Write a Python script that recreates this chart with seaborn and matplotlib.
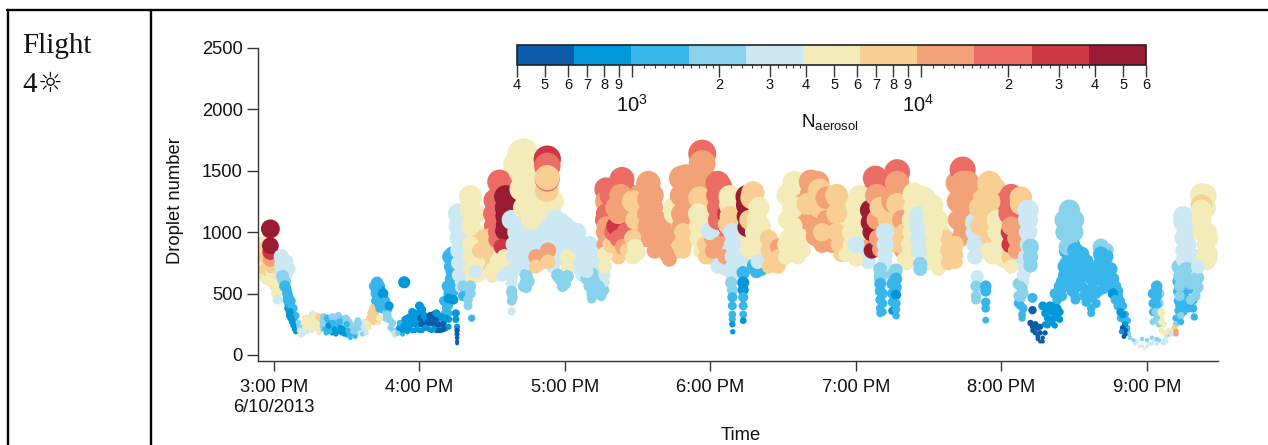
import numpy as np
import pandas as pd
import matplotlib
matplotlib.use('Agg')
import matplotlib.pyplot as plt
from matplotlib.colors import BoundaryNorm, ListedColormap, LogNorm, PowerNorm
from matplotlib.cm import ScalarMappable
from matplotlib.lines import Line2D
import seaborn as sns

time_min = [
    -4.5,-4.5,-4.5,-4.5,-4.5,-3,-3,-2.5,-1,-1,
    -0.5,-1,-1.5,-1.5,-1.5,-1.5,0,0.5,1,1.5,
    3,3,3,3.5,4,4.5,5.5,6,7,7.5,
    6.5,7,7.5,8,8.5,9,10.5,11,11,10.5,
    12.5,13,13.5,14.5,15,15.5,16,17,17.5,18,
    18.5,18.5,20.5,20.5,21,22,22.5,23,24,24.5,
    25,25.5,26.5,27,27.5,28,29,29.5,30,30.5,
    31,31.5,32.5,33,33.5,34.5,35,35.5,36.5,37,
    38,37.5,38.5,39.5,40,41,41.5,42,42.5,43.5,
    42.5,42.5,43,43,43.5,45,45.5,46,47.5,46.5,
    47,48.5,49,49.5,49.5,53.7,51,51.5,52,53,
    53.5,54,55,55.5,56,57,57.5,58,59,59.5,
    60,60.5,61,62,62,63,63.5,64.5,65,66,
    66.5,67,67.5,68,69,69.5,70,71,72,70,
    71,72,72.5,73,73.5,73.5,73.5,72,71.5,74,
    76,76,76,76,76,76,77,77,78,78,
    75,75,75.5,75.5,75.5,75.5,75.5,75.5,81,81,
    81,81,81,81,81.5,81,81,80,80,81.5,
    86,87,88,89,88,90,92,84,85,83,
    93,93,92.5,92.5,92,92,95.5,95.5,95.5,95.5,
    95,94,95,96,97,98,98,98,98.5,98,
    99,99,100,100,98,102,102,102,103,105,
    108,110,112,112,106,104,104,104,105,103,
    112.5,112.7,112.7,112.7,112.7,116,118,120,115,107,
    108,108,113,113,122,124,125,119,118,127,
    127,128,131,132,132,133,134,135,129,136.5,
    136.5,137,137,137,137,138,139,139,140,143.5,
    141,141,142,142,143,144,145,144,146,148,
    149,148,149,150,148,154.4,154.4,154,154,155,
    157,158,160,161,161,162,162,163,165,165,
    168,168,168,168,170,172,172,169,168.8,168.8,
    176.6,176.6,176.6,176,175,175.5,175,175,175,176,
    178,178,181,181,180,183,183,183,183,184,
    187,187,187,184,188,188,188,187,188,186,
    189,189,189,189,189,188.5,189,189,189,189,
    189,189,189.2,193.5,193.5,193.5,193.5,193.5,193.5,193.5,
    195,195,195,195,197.5,197,196,200,199,198,
    197,198,200,199.5,199.5,204,204,205,208,208,
    208,204,211,214.6,214,214,215,213,211,216,
    221.5,221.5,222,223,223,220,225,225,228,228,
    229,230,226,232,232,232,233,234,238,238,
    236,240,241.5,241,241.5,240,246,246,246.5,246.5,
    248,248.5,248.5,249,250,250,253,257,257,255,
    257,259,260,258,252,252,252,252,250,250,
    250,250,250,250,250,256.5,256.5,256.5,256.5,256.5,
    256.5,256.5,264,264,263,263,262,262,266,266,
    266,266,266.5,266.5,271.5,271.5,272,272,272,274,
    278,278,284,284,286,286,285,284,281,281,
    289,289,289,291,291,295,295,295,295,294.5,
    289,290,289.5,289.5,289.5,293.5,293.5,293.5,293.5,293.5,
    298,298,299,303.5,303.5,304,303,304,304,308,
    306,306,308,311,311,311,311,310,310,309,
    312,312,312,308.5,308,308,308.5,308.5,312.8,312.8,
    312,313,314,315,317,317,315,318,317,318,
    320,322,322,323,324,322,324,326,327,328,
    328,328,328,328,327,330.5,331,331,330.5,331,
    330,330.5,337,337,337,337,337,341,341,341,
    342,342,342,345,346,347,348,349,350,351,
    350,350,351,351,350.5,349.5,354.5,355,357,359,
    361,363,364,366,367,364,364,364,364,363.5,
    364,365,366,366,366,366,367,369,370,371.5,
    372,372,375,375,375,375,375,376,373.5,373.5,
    373.5,373.5,374,374,379.5,380,381,380,378,382.5,
    382.5,382.5,382.5,382.5,384,386,383,385,381,386,
]
droplet_number = [
    660,720,780,850,900,700,800,880,600,680,
    760,720,780,840,890,1027,620,560,500,450,
    800,730,680,640,610,560,500,470,400,350,
    350,300,270,240,210,190,230,180,160,200,
    270,220,190,300,240,200,330,320,260,210,
    180,310,310,250,210,300,240,190,310,260,
    210,170,320,270,220,180,170,300,250,200,
    170,140,190,240,150,280,220,180,170,230,
    180,270,260,300,340,380,330,300,290,300,
    590,530,480,420,380,500,430,400,400,330,
    290,240,200,180,165,592,175,220,260,200,
    240,290,220,270,310,350,300,250,210,330,
    400,300,250,220,320,290,270,320,260,210,
    290,340,250,200,310,250,210,300,230,440,
    380,500,560,620,680,760,820,460,560,450,
    1150,1050,950,850,750,650,600,550,560,480,
    340,290,230,200,170,140,110,95,1290,1180,
    1050,900,800,700,640,560,500,450,400,300,
    700,800,900,960,750,700,760,750,850,680,
    1410,1300,1200,1100,1000,940,1290,1200,1130,1060,
    1010,880,800,720,680,640,500,520,470,354,
    900,800,1000,750,1100,1640,1500,1350,1200,1540,
    1450,1400,1300,1200,1100,650,600,550,750,850,
    1340,1595,1540,1432,1445,1100,1080,1050,950,900,
    800,720,850,760,950,1000,900,560,620,900,
    850,750,660,600,540,500,560,480,680,720,
    820,1350,1250,1150,1050,950,900,1300,1000,1430,
    1200,1050,1150,950,1300,1200,1000,880,850,1250,
    1100,950,880,830,800,1400,1270,1150,1050,950,
    1100,900,1080,950,850,980,820,780,1200,1150,
    1440,1300,1150,1050,1200,1100,1000,900,1000,850,
    1640,1560,1450,1350,1250,1280,1150,1050,950,850,
    900,800,950,850,1010,1400,1300,1200,1100,1370,
    1150,1050,950,900,1290,1220,1130,1060,850,800,
    1000,900,800,720,640,590,530,470,400,330,
    290,250,189,670,590,530,470,400,330,280,
    1290,1220,1130,1040,1320,1280,1100,1200,1100,1000,
    900,850,800,720,760,950,850,800,880,800,
    720,720,900,1400,1200,1050,950,880,800,800,
    1410,1300,1150,1030,960,1230,1340,1200,1280,1100,
    1000,900,1000,1300,1150,1000,900,820,1000,900,
    820,780,1290,1150,1000,900,1180,1080,1000,850,
    1440,1300,1100,950,860,1200,1100,1490,1400,1250,
    1230,1100,1000,900,1000,900,820,750,700,650,
    580,520,450,380,340,690,620,550,490,420,
    370,320,1310,1200,1100,1000,900,820,1130,1050,
    950,850,700,740,1220,1100,1000,900,800,700,
    750,850,1510,1400,1400,1200,1050,1000,900,760,
    1080,1000,900,1200,1050,1400,1250,1100,950,850,
    800,640,560,480,450,560,520,430,380,284,
    1100,1000,900,1000,900,1300,1150,1050,720,1280,
    950,850,1230,1180,1100,1000,900,800,700,650,
    880,800,730,540,460,400,330,300,465,365,
    260,230,180,150,110,140,220,250,400,340,
    290,240,300,380,350,500,560,650,750,1180,
    1120,1060,1000,950,880,850,780,700,640,580,
    500,450,620,540,470,380,340,880,820,750,
    680,610,540,560,500,450,400,350,290,250,
    330,220,170,200,150,190,120,90,70,50,
    90,120,130,100,90,560,520,470,410,350,
    300,250,200,350,270,200,180,200,170,220,
    190,170,1130,1080,950,850,780,700,640,560,
    480,400,320,270,310,620,550,480,450,1305,
    1220,1180,1100,1000,900,830,780,750,720,790,
]
n_aerosol = [
    4900,7700,4900,7700,4900,7700,7700,7700,4900,4900,
    4900,7700,12000,30000,48000,48000,4900,4900,4900,3100,
    3100,3100,3100,2000,2000,1250,1250,1250,1250,1250,
    800,800,800,800,800,800,2000,3100,3100,3100,
    4900,4900,3100,4900,4900,4900,3100,4900,4900,4900,
    4900,7700,2000,2000,1250,1250,800,1250,2000,1250,
    800,800,2000,1250,800,800,800,2000,1250,1250,
    1250,1250,2000,2000,1250,2000,2000,3100,2000,3100,
    3100,3100,4900,7700,7700,7700,7700,7700,7700,4900,
    1250,1250,1250,1250,1250,800,1250,1250,800,2000,
    2000,2000,2000,3100,3100,800,2000,800,1250,800,
    800,800,800,800,800,800,800,800,800,800,
    800,500,500,800,800,800,500,500,500,800,
    500,800,500,500,800,500,500,800,800,1250,
    1250,1250,1250,1250,1250,1250,1250,800,1250,800,
    3100,3100,3100,3100,3100,3100,3100,3100,2000,1250,
    800,800,800,500,500,500,500,500,4900,4900,
    4900,4900,4900,4900,4900,2000,2000,2000,2000,1250,
    4900,7700,7700,7700,7700,4900,4900,4900,7700,3100,
    19000,19000,19000,19000,19000,19000,48000,48000,48000,48000,
    48000,30000,4900,4900,3100,3100,2000,2000,2000,3100,
    3100,3100,3100,3100,3100,4900,4900,4900,4900,4900,
    4900,4900,4900,4900,4900,2000,2000,2000,3100,3100,
    7700,30000,19000,19000,7700,3100,3100,3100,3100,3100,
    12000,7700,12000,7700,3100,3100,3100,2000,2000,3100,
    3100,3100,2000,2000,2000,2000,2000,2000,3100,4900,
    4900,19000,12000,19000,12000,12000,7700,19000,19000,19000,
    12000,30000,12000,19000,12000,12000,19000,12000,7700,7700,
    7700,7700,4900,4900,4900,12000,12000,12000,12000,12000,
    12000,12000,12000,12000,12000,12000,12000,12000,4900,4900,
    12000,12000,12000,12000,12000,12000,12000,7700,7700,7700,
    19000,12000,12000,12000,12000,7700,4900,4900,4900,4900,
    7700,7700,12000,12000,3100,19000,19000,19000,19000,19000,
    30000,48000,19000,12000,4900,4900,7700,7700,3100,12000,
    3100,3100,3100,3100,3100,2000,2000,1250,1250,1250,
    1250,800,800,1250,800,800,1250,1250,1250,800,
    48000,48000,48000,48000,7700,7700,7700,4900,4900,4900,
    4900,4900,4900,1250,3100,7700,7700,7700,12000,7700,
    7700,7700,4900,4900,4900,4900,4900,4900,4900,4900,
    12000,12000,12000,12000,12000,7700,7700,7700,12000,12000,
    12000,12000,7700,7700,7700,7700,7700,7700,4900,4900,
    4900,4900,4900,4900,4900,3100,48000,48000,48000,48000,
    19000,12000,12000,12000,12000,7700,7700,19000,12000,12000,
    7700,12000,7700,7700,3100,3100,3100,3100,2000,2000,
    1250,1250,1250,1250,1250,2000,1250,1250,800,1250,
    1250,1250,4900,4900,4900,4900,4900,4900,3100,3100,
    3100,3100,2000,2000,4900,4900,4900,4900,4900,4900,
    7700,7700,19000,12000,12000,12000,12000,12000,7700,7700,
    3100,3100,3100,7700,7700,7700,7700,7700,7700,4900,
    3100,3100,2000,2000,2000,1250,1250,1250,1250,1250,
    4900,4900,4900,30000,30000,19000,19000,12000,4900,7700,
    12000,12000,7700,3100,3100,3100,3100,3100,3100,3100,
    2000,2000,2000,2000,2000,1250,1250,1250,1250,500,
    500,500,500,500,500,500,500,800,800,800,
    800,800,800,800,800,1250,1250,1250,1250,2000,
    2000,2000,2000,2000,2000,1250,1250,1250,1250,1250,
    1250,1250,1250,1250,1250,1250,1250,2000,1250,1250,
    1250,1250,1250,1250,800,1250,1250,800,1250,800,
    800,500,500,500,500,800,2000,3100,3100,4900,
    3100,3100,2000,3100,3100,1250,1250,1250,1250,2000,
    2000,2000,3100,4900,4900,4900,4900,4900,3100,7700,
    12000,12000,3100,3100,3100,3100,3100,2000,2000,2000,
    2000,1250,2000,1250,1250,2000,2000,2000,2000,4900,
    7700,4900,4900,4900,4900,4900,4900,4900,3100,4900,
]

# more readings from the dense parts of the swarm, drawn underneath the ones above
under_time = [
    4.5,5,5.5,6,6,6.5,7,7,8,8,
    8.5,9,9.5,9,10,10,11.5,12,12,13,
    14,14,15,16,16,16.5,17,18,18,19,
    19.5,20,21,21.5,22,22,23,23,23.5,24,
    24,25,25,26,26,26,27,27,28,28,
    28.5,29,29.5,30,30,31,31,32,32,33,
    34,34,34,35,35,36,36,37,38,39,
    39,40,41,41,42,43,41.5,42,42,42,
    43.5,44,44,44.5,45,45,46,46,47,47,
    46,48,48,49,50,50,51,52,52,53,
    53,54,54,55,55,55,56,56,57,57,
    58,58,58,59,60,60,60,61,61,61,
    62,63,64,64,65,65,66,66,67,67,
    68,68,69,70,70,71,72,72,71,72,
    73,73,74,74,74,73,72.5,79,79,79,
    79,83,83,83,83,84,85,87,90,90,
    89,91,88,90,85,91,91,90.5,90.5,91,
    93,93,93,94,96,96,98,98,104,103,
    105,100,100,100,100,103,104,104,106,106,
    106,108,108,110,110,110,114,115,113,105,
    108,110,101,101,102,103,106,107,107,109,
    110,112,112,112,114,114,115,116,118,118,
    120,120,120,122,122,122,124,124,125,126,
    127,129,130,131,131,133,133,135,121,121,
    117,120,121,129,130,131,131,134,136,136,
    136,138,138,138,136.5,136.5,136.5,140,140,140,
    141,142,143,144,146,146,146,147,147,148,
    151,151,151,153,156,156,157,158,159,159,
    160,162,163,157,164,164,166,166,167,172,
    170,170,180,180,183,184,186,187,190,190,
    192,193,194,194,194,194,196,196,201,202,
    202,202,199,198,201,203,206,206,206,209,
    210,210,212,212,212,216,216,217,218,218,
    219,220,220,224,224,224,225,226,227,228,
    231,231,235,235,235,236,237,239,240,240,
    241,243,243,245,246,246,246,246,251,251,
    252,253,254,254,255,250,252,251,251,251,
    255,255,255,255,255,258,259,260,261,261,
    259,260,261,265,265,268,268,268,268,268,
    270,270,270,270,273,274,274,275,276,277,
    279,279,281,282,282,282,283,287,287,288,
    292,292,300,300,302,293,293,293,297,297,
    297,297,296,302,302,302,306,306,305,305,
    303,305,308,308,308,308,309,307,307,307,
    309,309,313,314,316,316,315,316,318,319,
    319,319,320,321,321,322,323,324,323,324,
    325,325,326,326,327,327,329,329,329,329,
    326,326,330,330,329,333,333,333,333,334,
    335,335,335,336,338,338,339,339,340,340,
    343,343,343,344,344,345,346,347,348,348,
    349,350,349,351,352,352,352,352.5,353,356,
    358,358,360,360,362,362,364,365,367,368,
    368,369,362.5,362.5,362.5,362.5,365,365,365,365.5,
    367,368,370,371,373,373,373,373,373,372,
    372,375,375,375,375,375,377,377,377,377,
    377,377,376,377,378,379,379,379,380,380,
    381,384,384,383,385,386,384,-3,-2,-2,
    0,0,1,2,2,1,3,4,5,5,
    6,
]
under_droplets = [
    600,530,450,420,380,320,440,350,380,300,
    270,320,260,230,200,260,210,170,240,300,
    250,200,280,260,210,290,230,290,240,200,
    280,230,280,180,260,210,280,240,210,180,
    230,290,250,200,250,300,190,240,290,240,
    210,260,200,160,290,220,270,170,220,190,
    170,220,250,190,260,200,240,200,220,220,
    260,290,320,270,350,270,560,500,440,400,
    560,520,460,400,470,370,440,360,370,320,
    300,280,220,260,200,160,200,190,230,250,
    170,210,250,190,250,300,210,260,200,250,
    200,300,340,260,200,250,340,200,300,370,
    270,220,260,210,200,300,250,330,200,290,
    240,300,200,260,330,220,290,340,420,400,
    450,520,580,520,640,720,800,1100,950,800,
    680,1150,1000,850,720,640,950,950,850,950,
    800,900,700,640,650,680,1260,1150,1050,980,
    900,800,700,650,900,800,580,440,700,560,
    600,1550,1400,1250,1100,1650,1500,1350,1550,1400,
    1250,1350,1200,1300,1150,1050,1200,1250,1150,1000,
    1000,950,900,800,700,950,1000,820,750,850,
    750,1000,900,800,1050,800,720,800,950,850,
    950,850,780,1020,850,750,900,800,1000,700,
    650,800,900,800,720,800,720,640,800,700,
    650,580,640,620,560,500,460,500,530,600,
    650,1200,1100,1000,1100,1000,900,1200,1100,900,
    850,800,950,1350,1300,1150,1000,900,850,1100,
    1300,1150,1000,950,1300,1200,1000,1100,1000,900,
    950,1000,900,850,1100,1000,900,850,1000,1000,
    1450,1350,900,800,720,800,700,750,850,750,
    700,760,850,1100,1000,900,1000,850,1050,950,
    850,750,680,730,700,780,900,780,730,760,
    850,780,1300,1100,950,1300,1100,950,850,1050,
    1250,1350,1100,1400,1200,1000,1050,900,1250,1000,
    1000,1180,1200,1050,950,900,1100,1150,1250,1050,
    850,900,800,760,1300,1150,1000,900,1400,1250,
    1150,1000,1350,900,1050,620,680,500,420,350,
    650,580,500,430,360,1150,1000,1250,1150,1050,
    850,780,750,1250,1050,1280,1150,1050,900,800,
    1200,1000,850,750,800,1100,900,1000,800,950,
    900,780,820,1400,1250,1100,950,1300,1100,1000,
    1000,850,850,780,760,1300,1150,1000,1350,1250,
    1050,900,800,1250,1100,1000,1250,1130,1000,900,
    800,800,1100,1000,850,750,600,580,480,420,
    380,500,200,250,230,180,130,110,180,240,
    300,360,400,350,260,400,320,290,450,500,
    480,600,560,720,640,850,600,700,800,520,
    1100,1000,1100,1000,900,820,720,640,560,480,
    430,680,760,500,700,600,500,420,620,520,
    850,800,720,640,560,700,620,560,480,520,
    440,400,300,330,280,220,190,170,140,110,
    130,70,120,70,90,140,90,120,120,110,
    150,170,500,420,350,270,500,420,350,300,
    250,180,200,170,720,600,520,440,360,300,
    250,660,580,500,420,350,800,700,620,540,
    450,380,1000,900,580,650,450,380,700,800,
    630,1300,1200,1050,1000,950,820,620,720,640,
    700,780,620,600,520,750,770,720,660,760,
    700,
]
under_aerosol = [
    2000,1250,1250,1250,800,800,1250,1250,1250,1250,
    800,1250,1250,800,2000,2000,3100,3100,4900,4900,
    4900,4900,4900,4900,3100,4900,4900,4900,4900,2000,
    2000,2000,2000,1250,1250,1250,1250,1250,800,800,
    1250,1250,1250,1250,1250,2000,800,1250,1250,1250,
    800,2000,800,1250,2000,2000,2000,1250,2000,1250,
    2000,2000,2000,2000,2000,2000,2000,3100,3100,4900,
    7700,7700,7700,7700,7700,4900,1250,1250,1250,1250,
    1250,800,1250,1250,800,1250,1250,2000,1250,2000,
    2000,2000,2000,2000,2000,3100,2000,1250,800,800,
    1250,800,800,800,800,800,800,800,800,800,
    800,800,800,800,800,800,800,800,800,800,
    800,800,800,800,800,800,800,800,500,800,
    800,800,800,800,1250,800,800,1250,1250,1250,
    1250,1250,1250,1250,1250,1250,1250,4900,4900,4900,
    4900,4900,4900,4900,4900,4900,7700,7700,7700,7700,
    12000,7700,4900,4900,4900,4900,19000,19000,19000,30000,
    4900,4900,4900,3100,4900,4900,3100,2000,2000,2000,
    2000,4900,4900,4900,4900,4900,4900,4900,4900,4900,
    4900,4900,4900,4900,4900,4900,4900,4900,4900,4900,
    4900,4900,3100,3100,3100,3100,3100,3100,3100,3100,
    3100,3100,3100,3100,3100,3100,3100,3100,3100,3100,
    3100,3100,3100,3100,3100,3100,3100,3100,3100,3100,
    3100,3100,3100,3100,3100,3100,3100,3100,4900,4900,
    2000,2000,2000,2000,2000,2000,2000,2000,2000,3100,
    3100,19000,12000,12000,19000,12000,12000,12000,12000,12000,
    7700,7700,12000,19000,19000,12000,12000,30000,12000,12000,
    12000,12000,12000,12000,12000,12000,12000,12000,12000,12000,
    12000,12000,12000,12000,7700,7700,7700,7700,7700,3100,
    12000,12000,7700,7700,3100,3100,3100,3100,3100,3100,
    3100,3100,3100,4900,4900,4900,4900,4900,4900,4900,
    4900,4900,1250,1250,1250,7700,7700,7700,7700,7700,
    7700,4900,4900,4900,4900,4900,4900,4900,4900,4900,
    7700,12000,12000,12000,7700,12000,12000,12000,12000,12000,
    12000,7700,7700,7700,7700,7700,4900,4900,4900,4900,
    4900,4900,3100,3100,12000,12000,12000,12000,19000,12000,
    12000,12000,19000,7700,7700,2000,3100,1250,1250,1250,
    2000,1250,1250,1250,800,7700,7700,7700,7700,12000,
    12000,4900,4900,4900,4900,4900,4900,4900,4900,4900,
    4900,4900,4900,4900,4900,4900,4900,4900,4900,7700,
    7700,7700,7700,12000,12000,12000,12000,12000,12000,12000,
    4900,4900,4900,4900,4900,7700,7700,7700,7700,7700,
    7700,7700,4900,19000,19000,19000,12000,19000,12000,7700,
    7700,7700,3100,3100,3100,3100,3100,2000,2000,1250,
    1250,2000,500,500,500,500,500,500,500,800,
    800,800,800,800,800,800,800,800,1250,1250,
    1250,1250,1250,1250,1250,1250,1250,1250,1250,1250,
    2000,2000,2000,2000,1250,1250,1250,1250,1250,1250,
    1250,1250,1250,1250,1250,1250,1250,1250,1250,1250,
    2000,1250,1250,1250,1250,1250,1250,1250,1250,1250,
    1250,1250,1250,1250,1250,1250,1250,2000,2000,3100,
    2000,3100,2000,3100,3100,2000,3100,2000,3100,3100,
    3100,2000,1250,1250,1250,2000,2000,2000,3100,4900,
    4900,4900,4900,4900,2000,1250,1250,1250,1250,1250,
    2000,2000,2000,1250,1250,1250,3100,2000,2000,1250,
    1250,1250,3100,3100,2000,2000,1250,1250,3100,3100,
    2000,4900,4900,4900,4900,4900,4900,4900,4900,4900,
    4900,4900,4900,4900,4900,4900,3100,3100,3100,3100,
    3100,
]

bin_edges = [400, 631, 995, 1569, 2475, 3903, 6156, 9709, 15312, 24150, 38088, 60000]
bin_colors = ['#0b5dab', '#0098da', '#38b6ec', '#88d2ec', '#cce8f2', '#f3ecb8',
              '#f8ce92', '#f2a276', '#eb6c64', '#ce3644', '#9b1c32']
hour_ticks = [0, 60, 120, 180, 240, 300, 360]
hour_labels = ['3:00 PM\n6/10/2013', '4:00 PM', '5:00 PM', '6:00 PM', '7:00 PM', '8:00 PM', '9:00 PM']
droplet_ticks = [0, 500, 1000, 1500, 2000, 2500]
cbar_ticks = [400, 500, 600, 700, 800, 900, 1000, 2000, 3000, 4000, 5000, 6000,
              7000, 8000, 9000, 10000, 20000, 30000, 40000, 50000, 60000]
cbar_labels = ['4', '5', '6', '7', '8', '9', '', '2', '3', '4', '5', '6',
               '7', '8', '9', '', '2', '3', '4', '5', '6']
cbar_minor = [1100, 1200, 1300, 1400, 1500, 1600, 1700, 1800, 1900, 2200, 2400, 2600, 2800,
              3200, 3400, 3600, 3800, 11000, 12000, 13000, 14000, 15000, 16000, 17000, 18000,
              19000, 22000, 24000, 26000, 28000, 32000, 34000, 36000, 38000]

W, H = 1268, 445

sns.set_style('ticks')
plt.rcParams['font.family'] = ['Liberation Sans', 'DejaVu Sans']
plt.rcParams['mathtext.default'] = 'regular'
dark = '#333333'


def fx(px):
    return px / W


def fy(px):
    return 1 - px / H


df = pd.DataFrame({'time': under_time + time_min,
                   'droplets': under_droplets + droplet_number,
                   'aerosol': under_aerosol + n_aerosol})
cmap = ListedColormap(bin_colors)

fig = plt.figure(figsize=(W / 100, H / 100), dpi=100)
ax = fig.add_axes([fx(258), fy(361), fx(1218) - fx(258), fy(48) - fy(361)])

# marker diameter grows with droplet number
sns.scatterplot(data=df, x='time', y='droplets', hue='aerosol', palette=cmap,
                hue_norm=BoundaryNorm(bin_edges, len(bin_colors)),
                size='droplets', sizes=(5, 565), size_norm=PowerNorm(1.7, vmin=0, vmax=2000),
                linewidth=0, legend=False, ax=ax)

ax.set_xlim(-6.6, 389.3)
ax.set_ylim(-49, 2500)
ax.set_xticks(hour_ticks, hour_labels)
ax.set_yticks(droplet_ticks)
ax.tick_params(axis='x', length=7.5, width=1, color=dark, labelsize=13.2, labelcolor='#111111', pad=5.5)
ax.tick_params(axis='y', length=8, width=1, color=dark, labelsize=13.2, labelcolor='#111111', pad=3)
ax.set_xlabel('')
ax.set_ylabel('')
sns.despine(ax=ax)
for side in ['left', 'bottom']:
    ax.spines[side].set_color(dark)
    ax.spines[side].set_linewidth(1)
fig.text(fx(741), fy(435), 'Time', fontsize=13.2, ha='center', va='center', color='#111111')
fig.text(fx(176), fy(201), 'Droplet number', fontsize=13.2, rotation=90, ha='center', va='center', color='#111111')

# colour bar
cax = fig.add_axes([fx(517), fy(65), fx(1146) - fx(517), fy(45) - fy(65)])
sm = ScalarMappable(norm=LogNorm(400, 60000), cmap=cmap)
cbar = fig.colorbar(sm, cax=cax, orientation='horizontal')
cbar.set_ticks(cbar_ticks, labels=cbar_labels)
cbar.ax.xaxis.set_ticks(cbar_minor, minor=True)
cax.tick_params(axis='x', which='major', length=8.5, width=1, color=dark, labelsize=10.5, pad=1, labelcolor='#111111')
cax.tick_params(axis='x', which='minor', length=2.4, width=0.8, color=dark, labelbottom=False)
cbar.outline.set_edgecolor('#222222')
cbar.outline.set_linewidth(1.2)
fig.text(fx(632), fy(105), r'$10^{3}$', fontsize=14.5, ha='center', va='center', color='#111111')
fig.text(fx(918), fy(105), r'$10^{4}$', fontsize=14.5, ha='center', va='center', color='#111111')
fig.text(fx(830), fy(122), r'$N_{aerosol}$', fontsize=13.5, ha='center', va='center', color='#111111')

# table the chart sits in
for xs, ys in [([7, W], [10, 10]), ([8, 8], [10, H]), ([151, 151], [10, H])]:
    fig.add_artist(Line2D([fx(v) for v in xs], [fy(v) for v in ys], color='black', lw=1.7,
                          transform=fig.transFigure))
fig.text(fx(22), fy(53), 'Flight', fontsize=21, family='Liberation Serif', color='#111111')
fig.text(fx(22), fy(92), '4', fontsize=21, family='Liberation Serif', color='#111111')
fig.text(fx(38), fy(92), '\u263c', fontsize=20, family='DejaVu Sans', color='#111111')

fig.savefig('out.png', dpi=100)
